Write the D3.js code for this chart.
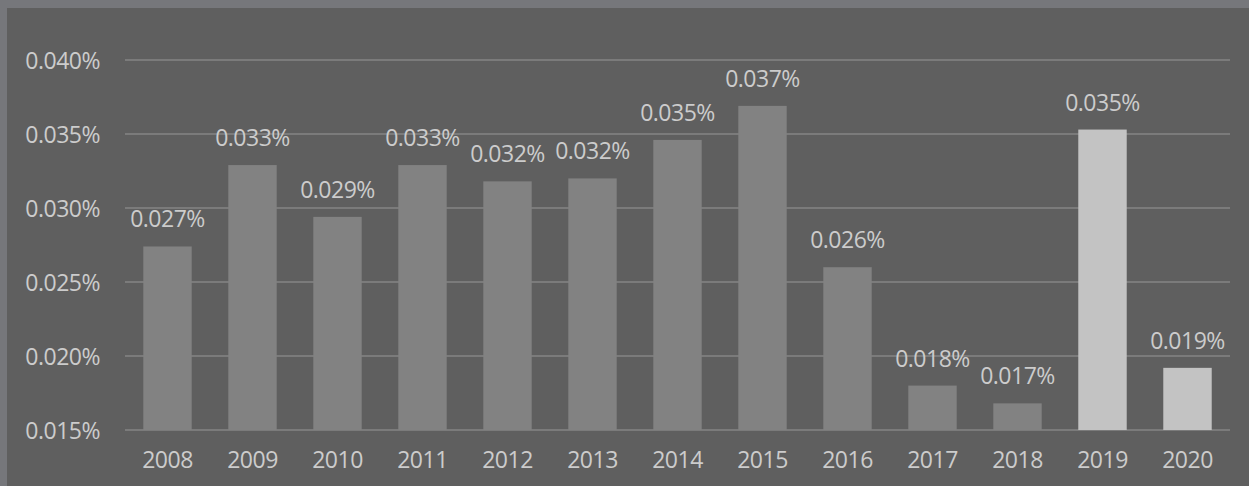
<!DOCTYPE html>
<html>
<head>
<meta charset="utf-8">
<script src="https://cdn.jsdelivr.net/npm/d3@7"></script>
<style>
    html, body { margin: 0; padding: 0; background: #76777b; }
    #chart { width: 1249px; height: 486px; }
    text { font-family: "Open Sans", sans-serif; fill: #cccccc; letter-spacing: -0.5px; }
</style>
</head>
<body>
<div id="chart"></div>
<script>
// values are percentages
const years = ["2008", "2009", "2010", "2011", "2012", "2013", "2014", "2015", "2016", "2017", "2018", "2019", "2020"];
const values = [0.0274, 0.0329, 0.0294, 0.0329, 0.0318, 0.0320, 0.0346, 0.0369, 0.0260, 0.0180, 0.0168, 0.0353, 0.0192];
const labels = ["0.027%", "0.033%", "0.029%", "0.033%", "0.032%", "0.032%", "0.035%", "0.037%", "0.026%", "0.018%", "0.017%", "0.035%", "0.019%"];
const highlighted = ["2019", "2020"];
const yTicks = [0.015, 0.020, 0.025, 0.030, 0.035, 0.040];

const W = 1249, H = 486;
const margin = {top: 60, right: 19, bottom: 56, left: 125};
const width = W - margin.left - margin.right,
    height = H - margin.top - margin.bottom;

let svg = d3.select("#chart").append("svg")
    .attr("width", W)
    .attr("height", H);

// inner panel (outer frame shows on top and left)
svg.append("rect")
    .attr("x", 7)
    .attr("y", 8)
    .attr("width", W - 7)
    .attr("height", H - 8)
    .attr("fill", "#5f5f5f");

let g = svg.append("g")
    .attr("transform", `translate(${margin.left},${margin.top})`);

let x = d3.scaleBand()
    .domain(years)
    .range([0, width])
    .paddingInner(0.43)
    .paddingOuter(0.215);

let y = d3.scaleLinear()
    .domain([0.015, 0.040])
    .range([height, 0]);

// gridlines
g.selectAll(".grid")
    .data(yTicks)
    .enter().append("line")
    .attr("class", "grid")
    .attr("x1", 0)
    .attr("x2", width)
    .attr("y1", d => y(d))
    .attr("y2", d => y(d))
    .attr("stroke", "#7b7b7b")
    .attr("stroke-width", 2);

// y axis labels
let yAxis = d3.axisLeft(y)
    .tickValues(yTicks)
    .tickSize(0)
    .tickPadding(25)
    .tickFormat(d => d3.format(".3f")(d) + "%");

g.append("g")
    .attr("class", "y-axis")
    .call(yAxis)
    .call(a => a.select(".domain").remove())
    .selectAll("text")
    .style("font-size", "23px")
    .attr("fill", "#cccccc")
    .attr("dy", "0.36em");

// x axis labels
let xAxis = d3.axisBottom(x)
    .tickSize(0)
    .tickPadding(22);

g.append("g")
    .attr("class", "x-axis")
    .attr("transform", `translate(0,${height})`)
    .call(xAxis)
    .call(a => a.select(".domain").remove())
    .selectAll("text")
    .style("font-size", "23px")
    .attr("fill", "#cccccc");

// bars
g.selectAll(".bar")
    .data(years)
    .enter().append("rect")
    .attr("class", "bar")
    .attr("x", d => x(d))
    .attr("y", (d, i) => y(values[i]))
    .attr("width", x.bandwidth())
    .attr("height", (d, i) => height - y(values[i]))
    .attr("fill", d => highlighted.includes(d) ? "#c3c3c3" : "#828282");

// value labels
g.selectAll(".value-label")
    .data(years)
    .enter().append("text")
    .attr("class", "value-label")
    .attr("x", d => x(d) + x.bandwidth() / 2)
    .attr("y", (d, i) => y(values[i]) - 19)
    .attr("text-anchor", "middle")
    .style("font-size", "23px")
    .text((d, i) => labels[i]);
</script>
</body>
</html>
